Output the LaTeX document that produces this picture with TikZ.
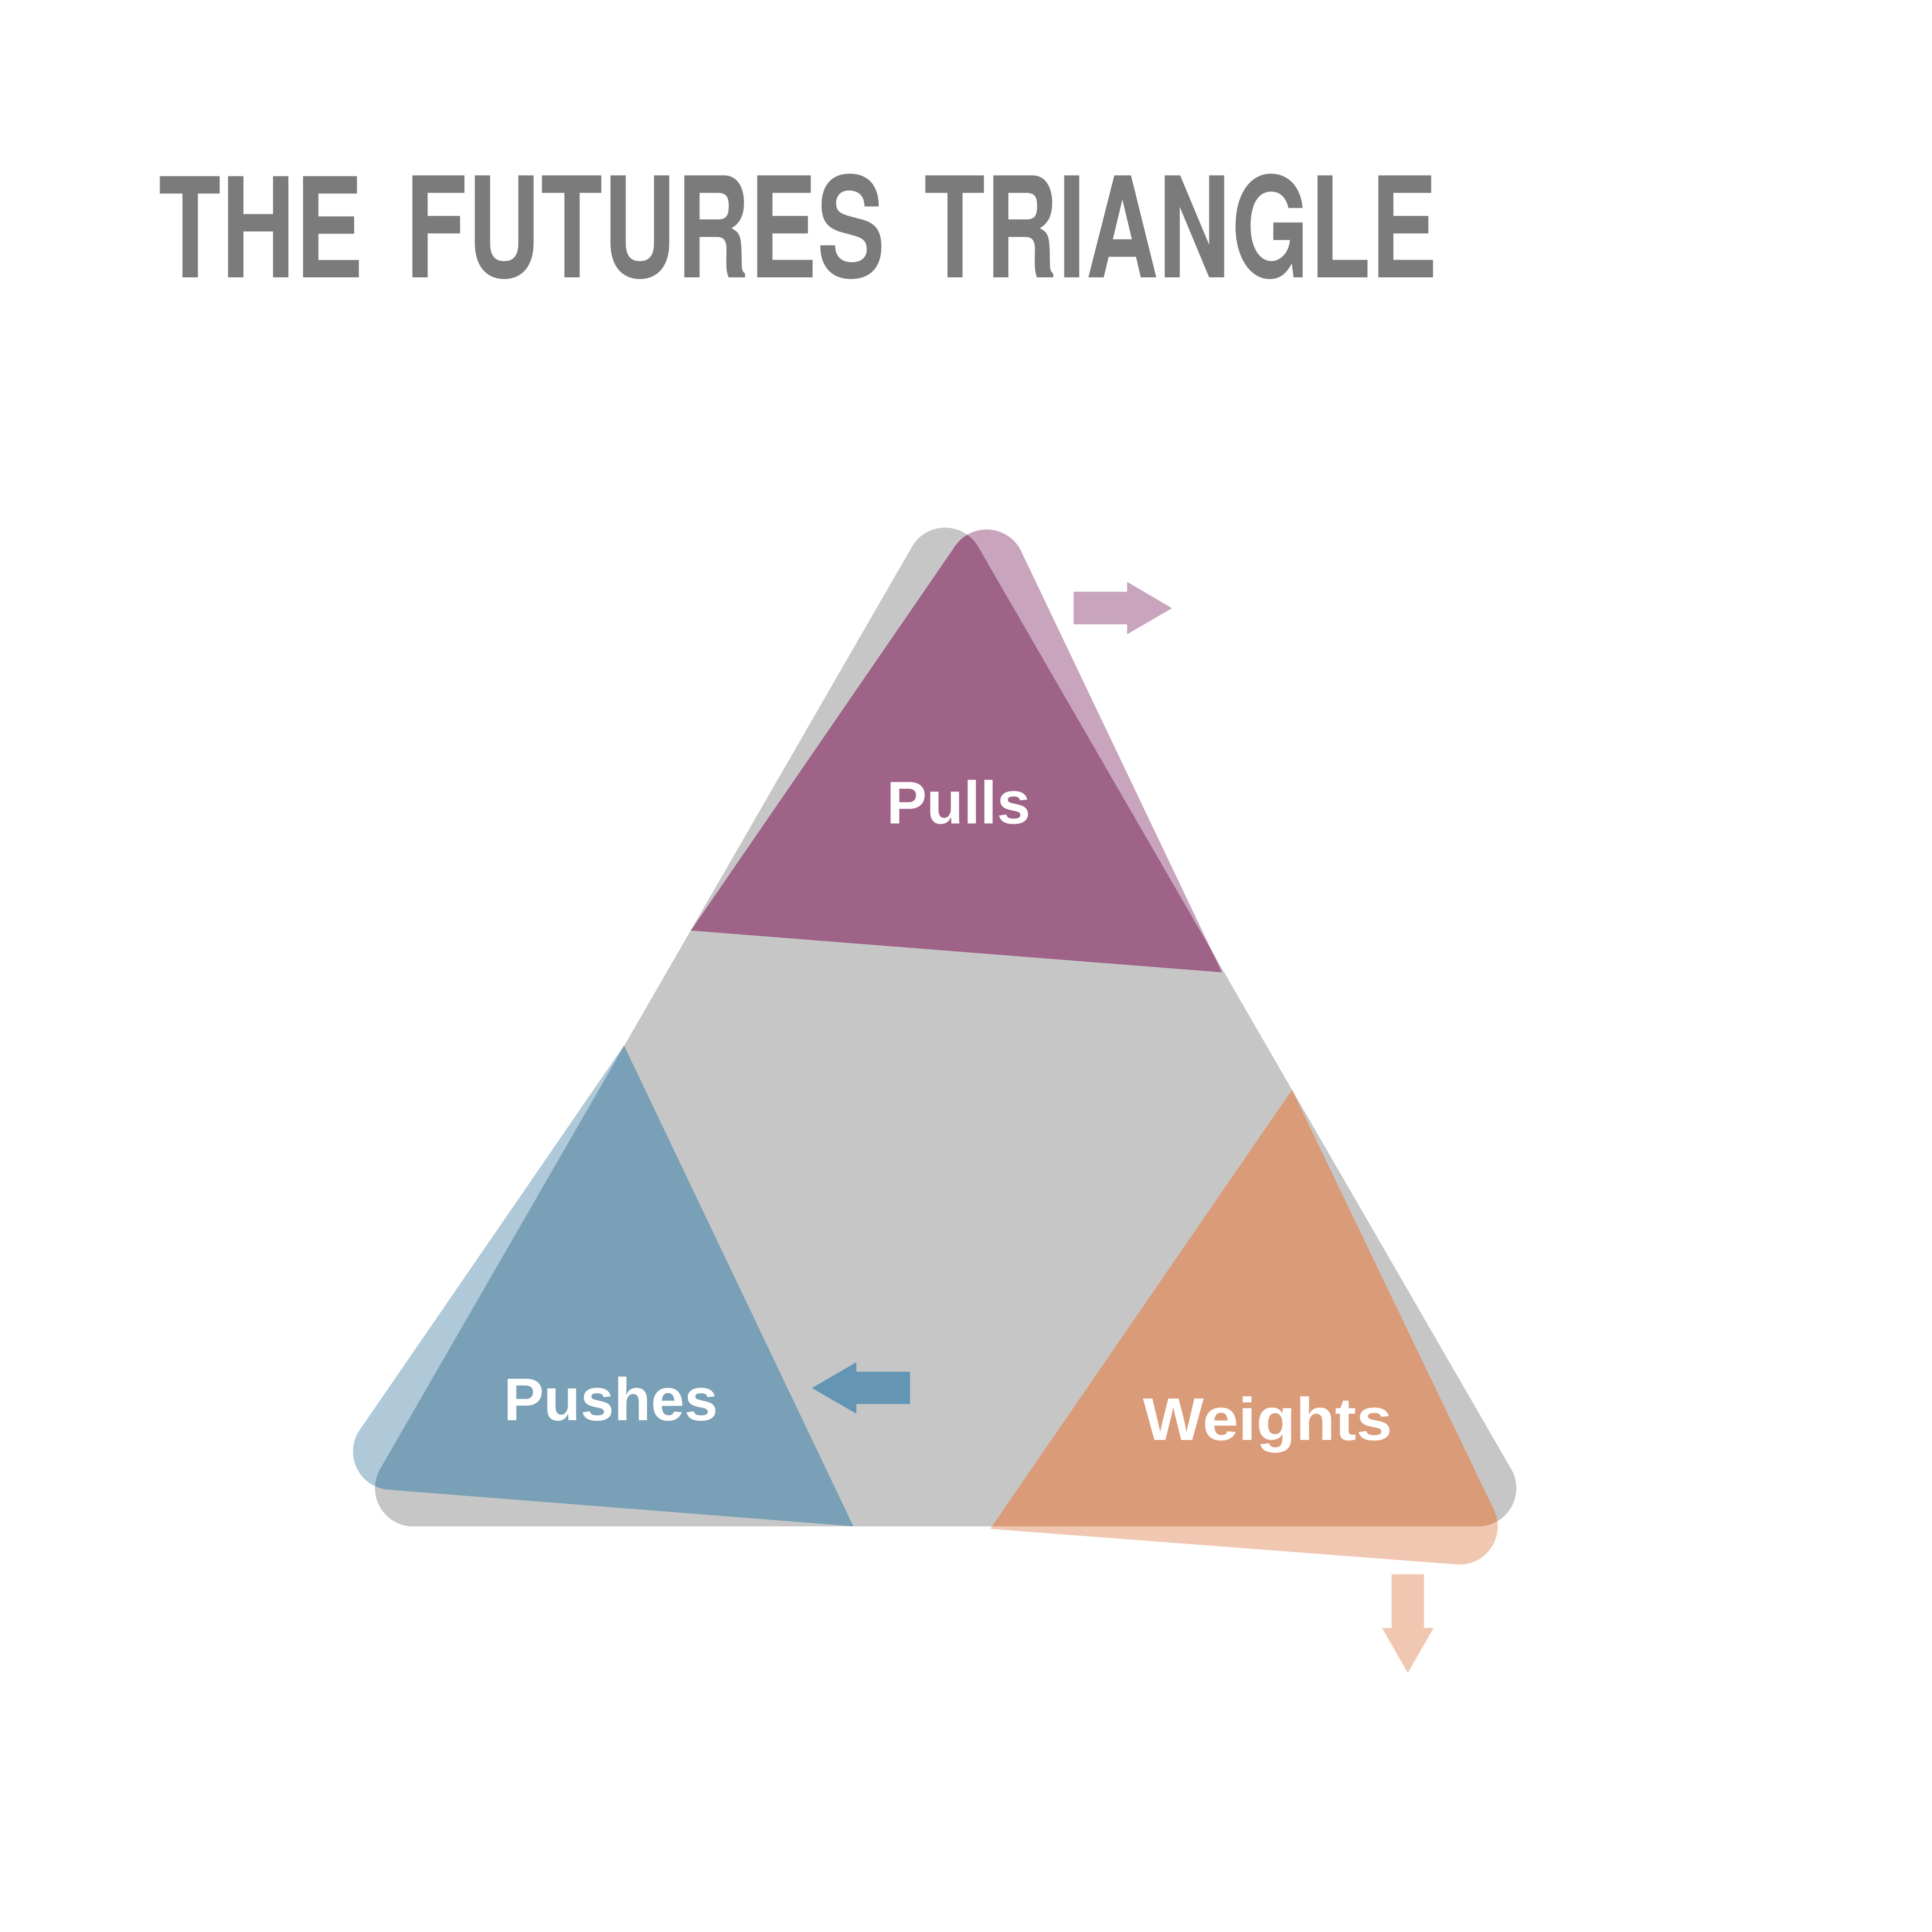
\documentclass[tikz,border=0pt]{standalone}
\usepackage{graphicx}
\usepackage{fontspec}
\setmainfont{Liberation Sans}
\newfontfamily\titlefont{TeX Gyre Heros}
\usetikzlibrary{calc}
\definecolor{trigray}{HTML}{C6C6C6}
\definecolor{titlegray}{HTML}{7B7B7B}
\definecolor{purpledark}{HTML}{9E6387}
\definecolor{purplelight}{HTML}{C8A4BD}
\definecolor{bluedark}{HTML}{79A0B6}
\definecolor{bluelight}{HTML}{B0C9D8}
\definecolor{bluearrow}{HTML}{6496B4}
\definecolor{orangedark}{HTML}{DA9B78}
\definecolor{orangelight}{HTML}{F0C8B2}
% outer-corner-rounded triangle: #1 draw command, #2 outer vertex, #3, #4 other vertices
\newcommand{\rtrione}[4]{#1 ($(#2)!0.537cm!(#3)$) -- (#3) -- (#4) -- ($(#2)!0.537cm!(#4)$) .. controls ($(#2)!0.298cm!(#4)$) and ($(#2)!0.298cm!(#3)$) .. ($(#2)!0.537cm!(#3)$) -- cycle;}
% all corners rounded
\newcommand{\rtriall}[4]{#1 ($(#2)!0.537cm!(#3)$) -- ($(#3)!0.537cm!(#2)$) .. controls ($(#3)!0.298cm!(#2)$) and ($(#3)!0.298cm!(#4)$) .. ($(#3)!0.537cm!(#4)$) -- ($(#4)!0.537cm!(#3)$) .. controls ($(#4)!0.298cm!(#3)$) and ($(#4)!0.298cm!(#2)$) .. ($(#4)!0.537cm!(#2)$) -- ($(#2)!0.537cm!(#4)$) .. controls ($(#2)!0.298cm!(#4)$) and ($(#2)!0.298cm!(#3)$) .. ($(#2)!0.537cm!(#3)$) -- cycle;}
\tikzset{
  lbl/.style={text=white, inner sep=0pt, anchor=base, font=\fontsize{13.9}{16}\selectfont\bfseries},
  ttl/.style={text=titlegray, inner sep=0pt, anchor=base west},
}
\begin{document}
\begin{tikzpicture}[x=0.01cm, y=-0.01cm]
\fill[white] (0,0) rectangle (1567,1567);
\useasboundingbox (0,0) rectangle (1567,1567);
% big gray triangle
\coordinate (gA) at (766.5,397);
\coordinate (gB) at (281.5,1238);
\coordinate (gC) at (1252.5,1238);
% purple
\coordinate (pA) at (805.1,398.7);
\coordinate (pL) at (560.4,754.7);
\coordinate (pR) at (991.1,788.6);
% blue
\coordinate (bA) at (506.1,848);
\coordinate (bL) at (261.4,1204);
\coordinate (bR) at (692.1,1237.9);
% orange
\coordinate (oA) at (1047.9,884);
\coordinate (oL) at (803.2,1240);
\coordinate (oR) at (1234.9,1272.9);

\rtriall{\fill[trigray]}{gA}{gB}{gC}
\rtrione{\fill[purplelight]}{pA}{pL}{pR}
\rtrione{\fill[bluelight]}{bL}{bA}{bR}
\rtrione{\fill[orangelight]}{oR}{oA}{oL}
\begin{scope}
\rtriall{\clip}{gA}{gB}{gC}
\rtrione{\fill[purpledark]}{pA}{pL}{pR}
\rtrione{\fill[bluedark]}{bL}{bA}{bR}
\rtrione{\fill[orangedark]}{oR}{oA}{oL}
\end{scope}

% block arrows
\fill[purplelight] (870.8,480) -- (914.2,480) -- (914.2,472) -- (950.5,493.3) -- (914.2,514.4) -- (914.2,506.4) -- (870.8,506.4) -- cycle;
\fill[bluearrow] (738.1,1112.6) -- (694.6,1112.6) -- (694.6,1104.8) -- (658.5,1125.8) -- (694.6,1146.6) -- (694.6,1138.8) -- (738.1,1138.8) -- cycle;
\fill[orangelight] (1128.7,1276.8) -- (1154.9,1276.8) -- (1154.9,1320.4) -- (1162.7,1320.4) -- (1141.8,1356.8) -- (1121,1320.4) -- (1128.7,1320.4) -- cycle;

% labels
\node[lbl] (pulls) at (777.6,668) {Pulls};
\node[lbl] (pushes) at (495.5,1152.2) {Pushes};
\node[lbl] (weights) at (1028.2,1168) {\scalebox{1.07}[1]{Weights}};

% title
\node[ttl] (t1) at (128,225) {\resizebox{1.66cm}{0.82cm}{\titlefont\bfseries THE}};
\node[ttl] (t2) at (328,225) {\resizebox{3.89cm}{0.84cm}{\titlefont\bfseries FUTURES}};
\node[ttl] (t3) at (749,225) {\resizebox{4.16cm}{0.84cm}{\titlefont\bfseries TRIANGLE}};
\end{tikzpicture}
\end{document}
